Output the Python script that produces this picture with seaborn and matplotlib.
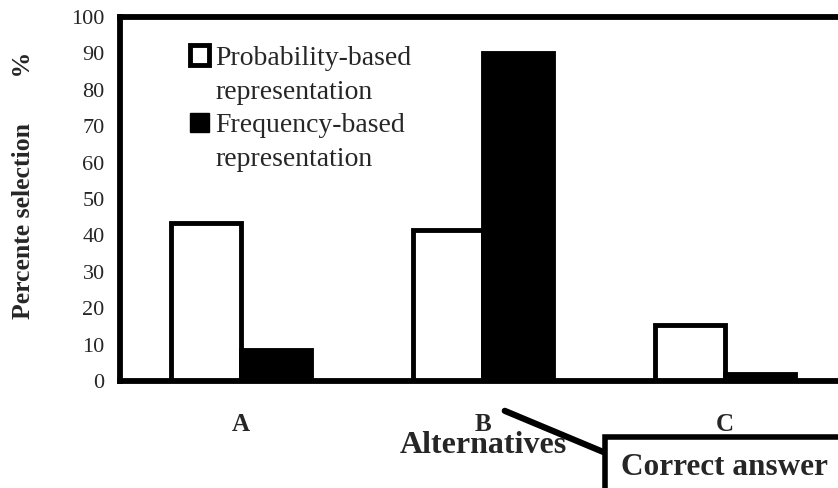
import matplotlib
matplotlib.use("Agg")
import matplotlib.pyplot as plt
from matplotlib.patches import Patch
import pandas as pd
import seaborn as sns

# Data
alternatives = ["A", "B", "C"]
probability_based = [43.5, 41.5, 15.5]
frequency_based = [8.5, 90.0, 2.0]
series_names = ["Probability-based representation", "Frequency-based representation"]
y_ticks = [0, 10, 20, 30, 40, 50, 60, 70, 80, 90, 100]

df = pd.DataFrame({
    "Alternative": alternatives * 2,
    "Percent": probability_based + frequency_based,
    "Representation": [series_names[0]] * 3 + [series_names[1]] * 3,
})

sns.set_style("white")
plt.rcParams["font.family"] = ["Liberation Serif", "DejaVu Serif"]

W, H, DPI = 838, 488, 100
fig = plt.figure(figsize=(W / DPI, H / DPI), dpi=DPI)
ax_left, ax_right, ax_top, ax_bottom = 120, 846, 17, 381
ax = fig.add_axes([ax_left / W, (H - ax_bottom) / H,
                   (ax_right - ax_left) / W, (ax_bottom - ax_top) / H])

sns.barplot(data=df, x="Alternative", y="Percent", hue="Representation",
            order=alternatives, hue_order=series_names,
            palette=["white", "black"], saturation=1,
            edgecolor="black", linewidth=3.5, width=0.58, gap=0,
            legend=False, ax=ax, zorder=2)

ax.set_xlim(-0.5, 2.5)
ax.set_ylim(0, 100)
ax.set_yticks(y_ticks)
ax.tick_params(axis="y", which="major", direction="out", length=5, width=1,
               color="#444444", labelsize=16, pad=6)

# category labels centred, boundary ticks between categories
ax.set_xticks(range(len(alternatives)))
ax.set_xticklabels(alternatives, fontweight="bold")
ax.tick_params(axis="x", which="major", length=0, labelsize=18, pad=23)
ax.set_xticks([-0.5, 0.5, 1.5, 2.5], minor=True)
ax.tick_params(axis="x", which="minor", direction="out", length=5, width=1,
               color="#555555")

for side in ("left", "top", "bottom"):
    ax.spines[side].set_visible(True)
    ax.spines[side].set_linewidth(4.2)
    ax.spines[side].set_color("black")
    ax.spines[side].set_zorder(3)
ax.spines["right"].set_visible(False)

ax.set_xlabel("Alternatives", fontsize=23, fontweight="bold")
ax.xaxis.set_label_coords(0.5, -0.138)
ax.set_ylabel("Percente selection       %", fontsize=18.5, fontweight="bold")
ax.yaxis.set_label_coords(-0.117, 0.538)

# legend: each label wraps onto a second line
blank = Patch(facecolor="none", edgecolor="none")
handles = [Patch(facecolor="white", edgecolor="black", linewidth=3.5), blank,
           Patch(facecolor="black", edgecolor="black", linewidth=1), blank]
labels = ["Probability-based", "representation", "Frequency-based", "representation"]
ax.legend(handles, labels, loc="upper left", bbox_to_anchor=(0.096, 0.922),
          frameon=False, fontsize=20, borderpad=0, borderaxespad=0,
          handlelength=0.7, handleheight=0.7, handletextpad=0.23,
          labelspacing=0.3)

# callout pointing at the correct alternative
ax.annotate("Correct answer", xy=(1.09, -8.2), xycoords="data",
            xytext=(621, 13), textcoords="figure pixels",
            ha="left", va="baseline", fontsize=22.5, fontweight="bold",
            annotation_clip=False,
            bbox=dict(boxstyle="square,pad=0.5", facecolor="white",
                      edgecolor="black", linewidth=4),
            arrowprops=dict(arrowstyle="-", color="black", linewidth=4.5,
                            shrinkA=0, shrinkB=0, relpos=(0, 0.78)),
            zorder=5)

fig.savefig("out.png", dpi=DPI)
